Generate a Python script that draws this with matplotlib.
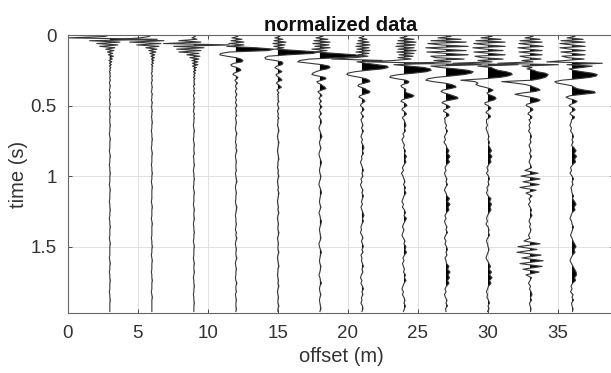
import numpy as np
import matplotlib
matplotlib.use("Agg")
import matplotlib.pyplot as plt

# wiggle plot of normalized shot gather
# amplitudes in percent of the plotting gain, samples: 0.01 s up to 0.60 s, then 0.02 s

offsets = [3, 6, 9, 12, 15, 18, 21, 24, 27, 30, 33, 36]

trace_03 = [0, -10, -84, 94, -40, 20, -26, 16, -20, 10,
            -8, 8, -5, 6, -3, 7, 0, 5, -2, 4,
            -1, 3, -1, 2, 0, 1, -1, 1, 0, 1,
            0, 0, 1, 0, -1, 0, 1, 0, 0, -1,
            0, 1, 0, 0, 1, 0, -1, 0, 0, 1,
            0, 0, -1, 0, 1, 0, 0, 0, 1, 0,
            0,
            0, 1, 0, 0, -1, 0, 1, 0, 0, 0,
            -1, 0, 1, 0, 0, -1, 0, 0, 1, 0,
            0, 0, -1, 0, 1, 0, 0, 0, -1, 0,
            0, 1, 0, 0, -1, 0, 0, 1, 0, 0,
            0, -1, 0, 1, 0, 0, 0, 0, -1, 0,
            1, 0, 0, -1, 0, 0, 1, 0, 0, 0,
            -1, 0, 0, 1, 0, 0, 0, 0]

trace_06 = [0, -6, -24, -60, 24, -44, 18, -30, 14, -12,
            10, -6, 8, -4, 6, -2, 5, -1, 4, 0,
            3, -1, 2, 0, 1, 0, 1, -1, 0, 1,
            0, 0, 1, 0, -1, 0, 0, 1, 0, 0,
            -1, 0, 1, 0, 0, 0, -1, 0, 1, 0,
            0, -1, 0, 0, 1, 0, 0, 0, -1, 0,
            0,
            1, 0, 0, -1, 0, 0, 1, 0, 0, -1,
            0, 1, 0, 0, 0, -1, 0, 0, 1, 0,
            0, -1, 0, 1, 0, 0, 0, 0, -1, 0,
            1, 0, 0, 0, -1, 0, 1, 0, 0, 0,
            0, -1, 0, 0, 1, 0, 0, -1, 0, 1,
            0, 0, 0, -1, 0, 0, 1, 0, 0, 0,
            -1, 0, 1, 0, 0, 0, 0, 0]

trace_09 = [0, 3, -4, 6, -30, 14, -60, 70, -40, 20,
            -34, 14, -30, 10, -14, 12, -8, 10, -4, 8,
            -3, 8, -3, 5, 0, 4, -1, 3, 0, 2,
            -1, 2, 0, 1, 0, 2, -1, 0, 1, 0,
            0, 2, 0, -1, 0, 1, 0, 0, 1, -1,
            0, 1, 0, 0, -1, 0, 1, 0, 0, 1,
            0,
            0, -1, 0, 1, 0, 0, -1, 0, 1, 0,
            0, 1, -1, 0, 0, 1, 0, -1, 0, 0,
            1, 0, 0, -1, 0, 1, 0, 0, 0, -1,
            0, 1, 0, 0, 1, 0, -1, 0, 0, 1,
            0, 0, -1, 0, 1, 0, 0, 0, -1, 0,
            1, 0, 0, 1, 0, -1, 0, 0, 1, 0,
            0, -1, 0, 0, 1, 0, 0, 0]

trace_12 = [0, 4, -8, 12, -10, 16, -14, 16, -18, 40,
            76, 64, -12, -30, -32, -18, 0, 10, 14, 12,
            -4, -10, -8, 2, 8, 10, 4, -4, -6, 0,
            4, 2, -2, 0, 3, 1, -1, 0, 2, 0,
            -1, 0, 2, 1, -1, 0, 1, 0, -1, 1,
            2, 0, -1, 0, 1, 0, 0, 2, 0, -1,
            0,
            1, 0, -1, 0, 2, 0, 0, -1, 1, 0,
            2, 0, -1, 0, 1, 0, 0, 1, -1, 0,
            1, 2, 0, -1, 0, 1, 0, 0, -1, 0,
            2, 1, 0, -1, 0, 0, 1, 0, -1, 1,
            0, 2, 0, -1, 0, 1, 0, 0, 2, 0,
            -1, 0, 1, 0, 0, -1, 0, 2, 0, 0,
            1, -1, 0, 1, 0, 0, 1, 0]

trace_15 = [0, 4, -6, 10, -8, 16, -10, 14, -8, 12,
            -6, 40, 80, 70, 20, -20, -26, -24, -6, 8,
            10, 8, -2, -6, -2, 4, 8, 2, -4, -2,
            2, 6, 8, 0, -3, 0, 4, 7, 2, -2,
            0, 2, -1, 1, 0, 1, 0, 2, 0, -1,
            0, 1, 2, 0, -1, 0, 1, 0, 0, 2,
            0,
            0, -1, 1, 2, 0, -1, 0, 2, 1, 0,
            -1, 0, 1, 2, 0, 0, -1, 1, 0, 2,
            0, -1, 0, 1, 0, 2, 1, 0, -1, 0,
            1, 0, 2, 0, -1, 0, 1, 0, 0, 2,
            1, -1, 0, 1, 0, 0, 2, 0, -1, 0,
            1, 2, 0, 0, -1, 0, 1, 0, 2, 0,
            -1, 0, 1, 0, 0, 2, 0, 0]

trace_18 = [0, 6, -8, 16, -12, 20, -14, 18, -10, 20,
            -16, 14, -10, 30, 70, 84, 40, -20, -40, -44,
            -20, 4, 18, 20, 14, 0, -8, -14, -16, -4,
            10, 12, 4, -6, -4, 2, 6, 10, 12, 4,
            -4, -2, 2, 4, 0, -2, 1, 3, 0, -1,
            2, 4, 1, -1, 0, 2, 3, 0, -2, 0,
            2,
            3, 0, -2, 0, 2, 4, 1, -1, 0, 2,
            0, -2, -1, 1, 3, 2, 0, -1, 0, 2,
            1, -1, -2, 0, 2, 3, 1, 0, -1, 0,
            2, 0, -2, 0, 1, 3, 2, 0, -1, 0,
            1, 2, 0, -2, -1, 1, 3, 1, 0, -1,
            0, 2, 1, 0, -2, 0, 1, 3, 0, -1,
            0, 2, 0, -1, 0, 1, 2, 0]

trace_21 = [0, 4, -6, 10, -8, 14, -10, 16, -12, 14,
            -10, 16, -12, 14, -8, 12, -14, -60, 40, -10,
            10, 30, 50, 52, 40, 10, -14, -28, -30, -20,
            -4, 8, 14, 16, 6, -6, -8, -2, 6, 10,
            16, 14, 4, -4, -6, 0, 4, 6, 2, -2,
            -3, 0, 3, 4, 1, -2, -1, 2, 3, 0,
            -2,
            0, 2, -1, 3, 0, -2, 1, -1, 2, 4,
            1, 3, -1, 0, -3, -1, 1, 3, 0, 2,
            -2, 0, -3, -1, 2, 0, 3, 1, -1, 1,
            -2, 0, 2, 4, 1, 3, 0, -2, -1, -3,
            0, 2, -1, 1, 3, 0, 2, -2, 0, -1,
            1, 3, 0, 2, -1, -3, 0, -2, 1, 3,
            0, 2, -1, 0, -2, 1, 2, 0]

trace_24 = [0, 6, -8, 20, -12, 24, -14, 22, -16, 20,
            -12, 24, -14, 20, -10, 18, -12, 14, -20, -72,
            60, -20, 10, 40, 52, 54, 44, 20, -10, -26,
            -28, -14, 4, 10, 8, -2, -6, -4, 2, 4,
            2, 6, 14, 20, 16, 4, -4, -6, 0, 4,
            6, 2, -3, -4, 0, 3, 5, 2, -2, -3,
            0,
            2, 4, 1, 3, -2, 0, -4, -2, 1, -1,
            3, 1, 5, 2, 4, 0, -3, -1, -5, -2,
            0, 2, -1, 3, 1, 4, 0, -2, -4, -1,
            -3, 1, 3, 0, 5, 2, -1, -3, 0, -2,
            -4, -1, 2, 0, 4, 2, 5, 1, -2, 0,
            -3, -1, 1, -1, 3, 1, 4, 0, -2, -4,
            -1, -3, 0, 2, 0, 3, 1, -1]

trace_27 = [0, 10, -16, 30, -30, 40, -36, -10, 44, -40,
            -6, 40, -38, 0, 44, -30, -20, 36, -24, 10,
            -80, 70, -30, -10, 20, 44, 54, 50, 36, 10,
            -20, -36, -40, -26, -4, 10, 18, 20, 8, -6,
            -10, -4, 6, 14, 22, 24, 10, -4, -8, -2,
            4, 8, 3, -4, -5, 0, 5, 6, 1, -3,
            -2,
            -2, 1, -1, 3, 0, -3, -1, -4, 0, 2,
            6, 3, 8, 4, 7, 1, -2, 0, -3, -1,
            2, 0, 3, -1, -3, 0, 2, 7, 3, 8,
            4, 6, 1, -2, 0, -3, -1, 2, 0, 3,
            -1, -3, 0, -2, 1, 3, 0, 2, -2, 0,
            1, 6, 3, 8, 4, 7, 3, 6, 1, -2,
            0, -3, -1, 2, 0, 3, -1, 0]

trace_30 = [0, 8, -14, 26, -24, 34, -28, -4, 34, -30,
            -4, 30, -28, 4, 34, -26, -12, 30, -20, 8,
            -70, 60, -20, 6, 12, 20, 36, 46, 48, 40,
            24, -10, -54, -26, -20, -24, -18, -6, 4, 10,
            6, -2, 0, 8, 14, 16, 12, 2, -6, -6,
            0, 4, 6, 2, -2, -4, 0, 4, 5, 1,
            -3,
            -3, -1, -4, -2, 0, 2, 0, 3, 1, 4,
            7, 3, 8, 4, 6, 1, -2, 0, -3, 1,
            3, 0, 2, -2, -1, -3, 0, 6, 3, 7,
            4, 6, 2, -1, -3, -1, -4, 0, 2, 1,
            3, -1, -3, -1, 0, 2, 0, -2, -4, -1,
            2, 5, 2, 7, 3, 8, 3, 6, 1, -1,
            -3, -1, -2, 1, 3, 0, 2, -1]

trace_33 = [0, 6, -10, 20, -20, 24, -22, 0, 26, -24,
            -2, 24, -22, 2, 24, -20, -6, 22, -16, 6,
            -64, 56, -16, 4, -6, 8, 14, 30, 36, 34,
            30, 20, 4, -56, -30, -10, 2, 8, 16, 20,
            10, -14, -30, -16, 0, 12, 20, 16, 4, -6,
            -8, -2, 4, 6, 2, -3, -4, 0, 4, 3,
            -2,
            1, -2, 0, -3, 1, 3, 0, 2, -2, 0,
            2, -1, 3, 0, -2, 1, 3, -10, 16, -18,
            20, -14, 18, -20, 12, -8, 4, -2, 1, -3,
            0, 3, 1, 4, 0, -2, 1, -1, 2, 0,
            -3, 0, -12, 20, -24, 14, -26, 22, -16, 26,
            -20, 24, -14, 18, -8, 3, 0, -3, 1, -1,
            2, 4, 1, 3, -1, 0, 2, 1]

trace_36 = [0, 6, -10, 22, -22, 26, -24, 0, 26, -24,
            -4, 26, -22, 2, 26, -20, -8, 24, -14, -50,
            60, -10, 40, 20, -6, 4, 20, 40, 50, 48,
            36, 10, -20, -34, -30, -14, 0, 4, 10, 24,
            44, 46, 20, -4, -12, -6, 4, 10, 6, -2,
            -6, -2, 4, 6, 2, -3, -4, 0, 5, 4,
            -1,
            -2, -4, -1, -3, 1, 3, 0, 2, -1, 4,
            8, 4, 9, 5, 7, 1, -3, -1, -4, 0,
            3, 0, 2, -2, -1, 0, 3, 1, 5, 8,
            4, 6, 0, -2, -4, -1, 0, 3, 1, -1,
            -3, 0, 2, 5, 8, 4, 6, 1, -2, -4,
            -1, 2, 5, 8, 9, 5, 7, 1, -2, 0,
            -3, 2, 0, 3, -1, 0, 2, 1]

traces = [trace_03, trace_06, trace_09, trace_12, trace_15, trace_18,
          trace_21, trace_24, trace_27, trace_30, trace_33, trace_36]

gain = 3.6 / 100.0  # percent -> metres of horizontal deflection


def sample_times(n):
    # 0.01 s steps for the first 61 samples, 0.02 s after
    idx = np.arange(n)
    return np.where(idx <= 60, idx * 0.01, 0.60 + (idx - 60) * 0.02)


plt.rcParams["font.family"] = ["Liberation Sans", "DejaVu Sans"]
txt = "#333333"

fig = plt.figure(figsize=(6.11, 3.73), dpi=100)
ax = fig.add_axes([0.111, 0.161, 0.894, 0.745])

for off, tr in zip(offsets, traces):
    t = sample_times(len(tr))
    x = off + np.array(tr, dtype=float) * gain
    ax.fill_betweenx(t, off, x, where=x > off, interpolate=True,
                     color="black", linewidth=0)
    ax.plot(x, t, color="#383838", linewidth=0.8)

ax.set_xlim(0, 39)
ax.set_ylim(1.97, 0)
ax.set_xticks([0, 5, 10, 15, 20, 25, 30, 35])
ax.set_yticks([0, 0.5, 1, 1.5])
ax.set_yticklabels(["0", "0.5", "1", "1.5"])
ax.grid(True, color="#dcdcdc", linewidth=0.6)
ax.set_axisbelow(True)
ax.tick_params(direction="in", top=True, right=True, length=3,
               width=0.6, colors=txt, labelsize=13.5)
ax.tick_params(axis="x", pad=9)
ax.tick_params(axis="y", pad=8)
for s in ax.spines.values():
    s.set_color("#666666")
    s.set_linewidth(0.8)

ax.set_title("normalized data", fontsize=14.5, fontweight="bold", color="#111111", pad=3)
ax.set_xlabel("offset (m)", fontsize=14.5, color=txt, labelpad=3)
ax.set_ylabel("time (s)", fontsize=14.5, color=txt, labelpad=2)

fig.savefig("out.png", dpi=100)
plt.close(fig)
